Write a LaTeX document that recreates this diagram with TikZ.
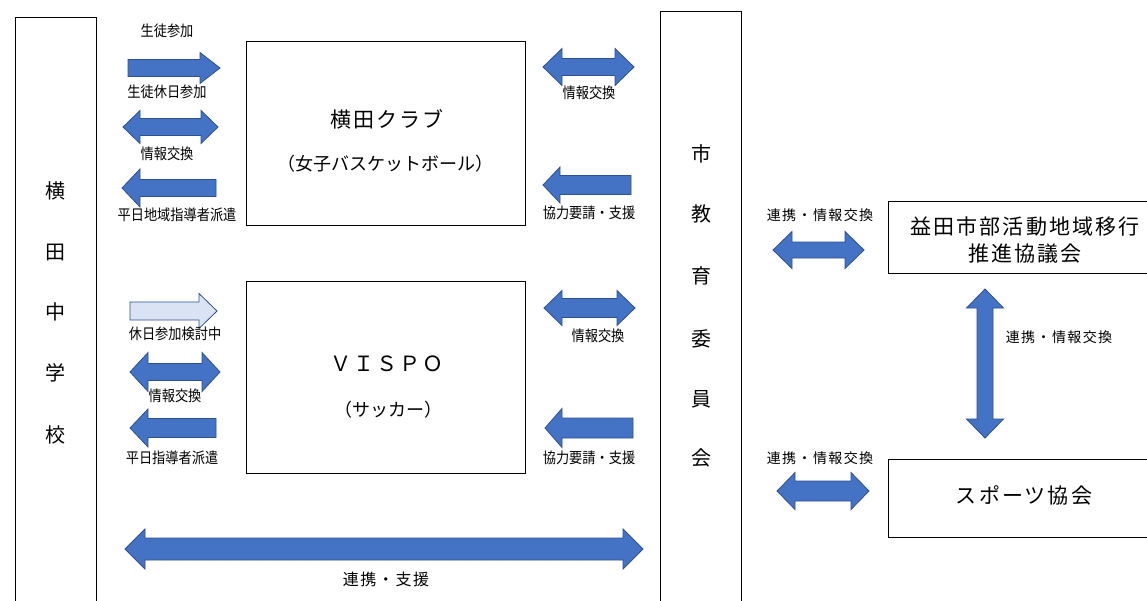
\documentclass[tikz,border=0pt]{standalone}
\usepackage{fontspec}
\setmainfont{Noto Sans CJK JP}
\newfontfamily\nf[FakeStretch=0.88]{Noto Sans CJK JP}
\newfontfamily\wf[LetterSpace=10]{Noto Sans CJK JP}
\definecolor{arrfill}{HTML}{4472C4}
\definecolor{arrline}{HTML}{2F528F}
\definecolor{lightfill}{HTML}{DAE3F3}
\tikzset{
  arr/.style={fill=arrfill,draw=arrline,line width=0.8pt,line join=miter},
  larr/.style={fill=lightfill,draw=arrline,line width=0.8pt,line join=miter},
  box/.style={draw=black,line width=1.4pt,fill=none,inner sep=0pt,anchor=north west},
  lab/.style={font=\nf\fontsize{15}{17}\selectfont,inner sep=0pt},
  rlab/.style={font=\wf\fontsize{14}{16}\selectfont,inner sep=0pt},
  big/.style={font=\wf\fontsize{21}{25}\selectfont,inner sep=0pt},
  mid/.style={font=\fontsize{18}{22}\selectfont,inner sep=0pt},
  vch/.style={font=\fontsize{20}{24}\selectfont,inner sep=0pt}
}
% right arrow: [style]{x1}{x2}{yc}{shaft half}{head half}{head length}
\newcommand\RArr[7][arr]{\draw[#1] (#2,#4-#5) -- (#3-#7,#4-#5) -- (#3-#7,#4-#6) -- (#3,#4) -- (#3-#7,#4+#6) -- (#3-#7,#4+#5) -- (#2,#4+#5) -- cycle;}
\newcommand\LArr[6]{\draw[arr] (#1,#3) -- (#1+#6,#3-#5) -- (#1+#6,#3-#4) -- (#2,#3-#4) -- (#2,#3+#4) -- (#1+#6,#3+#4) -- (#1+#6,#3+#5) -- cycle;}
\newcommand\DArr[6]{\draw[arr] (#1,#3) -- (#1+#6,#3-#5) -- (#1+#6,#3-#4) -- (#2-#6,#3-#4) -- (#2-#6,#3-#5) -- (#2,#3) -- (#2-#6,#3+#5) -- (#2-#6,#3+#4) -- (#1+#6,#3+#4) -- (#1+#6,#3+#5) -- cycle;}
% vertical double arrow: {xc}{y1}{y2}{shaft half}{head half}{head length}
\newcommand\VArr[6]{\draw[arr] (#1,#2) -- (#1+#5,#2+#6) -- (#1+#4,#2+#6) -- (#1+#4,#3-#6) -- (#1+#5,#3-#6) -- (#1,#3) -- (#1-#5,#3-#6) -- (#1-#4,#3-#6) -- (#1-#4,#2+#6) -- (#1-#5,#2+#6) -- cycle;}
\begin{document}
\begin{tikzpicture}[x=1pt,y=-1pt]
\useasboundingbox[fill=white] (0,0) rectangle (1147,600);
% boxes
\node[box,minimum width=81.5pt,minimum height=610pt] (school) at (14.5,17) {};
\node[box,minimum width=279pt,minimum height=184pt] (club1) at (246,41) {};
\node[box,minimum width=279pt,minimum height=192pt] (club2) at (246,281) {};
\node[box,minimum width=81pt,minimum height=610pt] (board) at (660,11) {};
\node[box,minimum width=280pt,minimum height=72pt] (council) at (888,201) {};
\node[box,minimum width=280pt,minimum height=78pt] (sports) at (888,459) {};
% vertical texts
\foreach \c/\y [count=\i] in {横/191,田/252,中/312,学/373,校/435}
  \node[vch] (sc\i) at (55,\y) {\c};
\foreach \c/\y [count=\i] in {市/154,教/214,育/276,委/339,員/399,会/458}
  \node[vch] (bd\i) at (701,\y) {\c};
% box texts
\node[big] (t1) at (387,119) {横田クラブ};
\node[mid] (t2) at (385,164) {（女子バスケットボール）};
\node[big] (t3) at (387,364) {ＶＩＳＰＯ};
\node[mid] (t4) at (388,410) {（サッカー）};
\node[big,align=center] (t5) at (1025,227) {益田市部活動地域移行};
\node[big] (t6) at (1025,254) {推進協議会};
\node[big] (t7) at (1024,495) {スポーツ協会};
% arrows: school <-> club1
\RArr{128}{220}{68}{8.5}{15.5}{20}
\DArr{123}{218}{127}{8.5}{16.5}{17}
\LArr{122}{216}{188}{8.5}{19}{18}
% school <-> club2
\RArr[larr]{130}{217}{311}{9}{17.5}{18}
\DArr{130}{220}{372}{8.5}{19.5}{18}
\LArr{130}{216}{428}{9.5}{19}{18}
% clubs <-> board
\DArr{543}{634}{67}{8.5}{18.5}{19}
\LArr{543}{631}{185}{9.5}{18}{17}
\DArr{544}{635}{308}{9.5}{17.5}{18}
\LArr{545}{633}{428}{10}{19.5}{17}
% bottom
\DArr{125}{643}{549}{11}{20}{20}
% right side
\DArr{773}{864}{250}{8}{18.5}{19}
\VArr{985}{289}{438}{8}{18.5}{19}
\DArr{777}{869}{491}{10}{18.5}{18}
% labels
\node[lab] (l1) at (167,31) {生徒参加};
\node[lab] (l2) at (167,92) {生徒休日参加};
\node[lab] (l3) at (167,154) {情報交換};
\node[lab] (l4) at (177,215) {平日地域指導者派遣};
\node[lab] (l5) at (175,334) {休日参加検討中};
\node[lab] (l6) at (175,396) {情報交換};
\node[lab] (l7) at (172,458) {平日指導者派遣};
\node[lab] (l8) at (589,93) {情報交換};
\node[lab] (l9) at (589,213) {協力要請・支援};
\node[lab] (l10) at (598,336) {情報交換};
\node[lab] (l11) at (589,458) {協力要請・支援};
\node[font=\wf\fontsize{16}{18}\selectfont,inner sep=0pt] (l12) at (386,579) {連携・支援};
\node[rlab] (l13) at (820,215) {連携・情報交換};
\node[rlab] (l14) at (1059,337) {連携・情報交換};
\node[rlab] (l15) at (820,458) {連携・情報交換};
\end{tikzpicture}
\end{document}
